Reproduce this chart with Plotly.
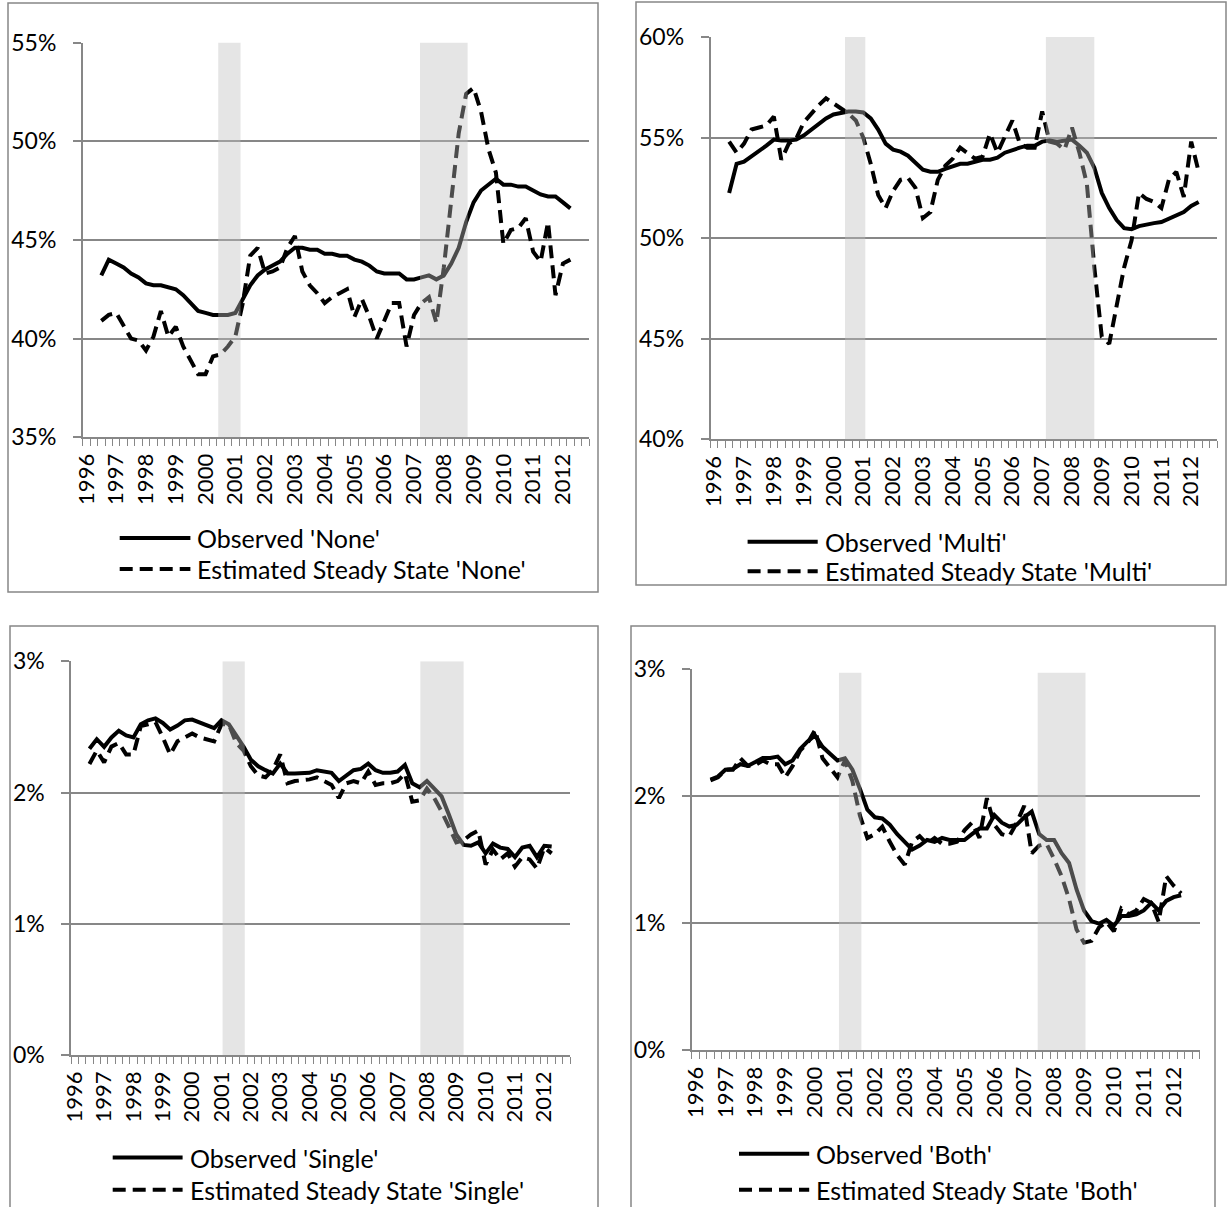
import plotly.graph_objects as go

W, H = 1227, 1207

# ---------------- data ----------------
AXIS_YEARS = list(range(1996, 2013))
AXIS_QUARTERS = [f"{y}Q{q}" for y in AXIS_YEARS for q in range(1, 5)]   # 68 categories
SERIES_START = "1996Q3"

none_obs = [43.2, 44.0, 43.8, 43.6, 43.3, 43.1, 42.8, 42.7, 42.7, 42.6, 42.5, 42.2, 41.8, 41.4,
            41.3, 41.2, 41.2, 41.2, 41.3, 42.0, 42.7, 43.2, 43.5, 43.7, 43.9, 44.3, 44.6, 44.6,
            44.5, 44.5, 44.3, 44.3, 44.2, 44.2, 44.0, 43.9, 43.7, 43.4, 43.3, 43.3, 43.3, 43.0,
            43.0, 43.1, 43.2, 43.0, 43.2, 43.8, 44.6, 45.9, 46.9, 47.5, 47.8, 48.1, 47.8, 47.8,
            47.7, 47.7, 47.5, 47.3, 47.2, 47.2, 46.9, 46.6]
none_est = [40.9, 41.2, 41.3, 40.6, 40.0, 39.9, 39.4, 40.1, 41.4, 40.1, 40.6, 39.6, 38.9, 38.2,
            38.2, 39.1, 39.2, 39.6, 40.1, 41.8, 44.2, 44.6, 43.3, 43.4, 43.6, 44.6, 45.2, 43.4,
            42.7, 42.3, 41.8, 42.1, 42.3, 42.5, 41.1, 42.0, 41.1, 40.0, 40.9, 41.8, 41.8, 39.6,
            41.2, 41.8, 42.1, 40.8, 43.6, 47.0, 50.4, 52.4, 52.7, 51.5, 49.6, 48.4, 44.8, 45.5,
            45.6, 46.1, 44.4, 43.9, 45.9, 42.2, 43.8, 44.0]

multi_obs = [52.25, 53.7, 53.8, 54.05, 54.3, 54.6, 54.9, 54.85, 54.85, 54.9, 55.1, 55.4, 55.7,
             55.95, 56.15, 56.25, 56.3, 56.3, 56.25, 55.95, 55.4, 54.7, 54.4, 54.3, 54.1, 53.75,
             53.4, 53.3, 53.3, 53.45, 53.6, 53.7, 53.7, 53.8, 53.9, 53.9, 54.0, 54.25, 54.4, 54.5,
             54.6, 54.6, 54.8, 54.85, 54.8, 54.85, 54.9, 54.6, 54.25, 53.5, 52.25, 51.5, 50.9,
             50.5, 50.45, 50.6, 50.7, 50.75, 50.8, 50.95, 51.1, 51.3, 51.6, 51.8]
multi_est = [54.8, 54.25, 54.7, 55.4, 55.5, 55.6, 56.05, 53.9, 54.7, 54.95, 55.75, 56.2, 56.6,
             56.95, 56.7, 56.4, 56.2, 55.85, 55.0, 53.7, 52.15, 51.5, 52.35, 52.9, 53.0, 52.5,
             51.0, 51.3, 52.9, 53.6, 53.95, 54.5, 54.25, 53.95, 54.05, 55.2, 54.25, 55.0, 55.85,
             54.7, 54.5, 54.5, 56.3, 54.8, 54.7, 54.4, 55.5, 54.25, 52.7, 48.55, 45.1, 44.75,
             46.65, 48.55, 49.9, 52.25, 51.95, 51.8, 51.5, 52.9, 53.3, 52.05, 54.8, 53.3]

single_obs = [2.333, 2.406, 2.348, 2.42, 2.47, 2.435, 2.42, 2.52, 2.55, 2.565, 2.53, 2.48, 2.51,
              2.55, 2.556, 2.536, 2.51, 2.49, 2.55, 2.52, 2.435, 2.35, 2.25, 2.2, 2.17, 2.145,
              2.22, 2.145, 2.145, 2.15, 2.15, 2.17, 2.16, 2.15, 2.087, 2.13, 2.17, 2.18, 2.22,
              2.17, 2.15, 2.15, 2.16, 2.21, 2.07, 2.04, 2.087, 2.03, 1.97, 1.83, 1.68, 1.60,
              1.594, 1.62, 1.536, 1.61, 1.58, 1.57, 1.507, 1.58, 1.594, 1.507, 1.594, 1.588]
single_est = [2.217, 2.32, 2.23, 2.35, 2.377, 2.29, 2.29, 2.507, 2.52, 2.536, 2.42, 2.29, 2.39,
              2.42, 2.45, 2.42, 2.406, 2.39, 2.52, 2.52, 2.377, 2.32, 2.2, 2.13, 2.116, 2.174,
              2.29, 2.07, 2.087, 2.093, 2.1, 2.116, 2.087, 2.058, 1.957, 2.07, 2.087, 2.07, 2.16,
              2.058, 2.07, 2.07, 2.087, 2.145, 1.93, 1.94, 2.03, 1.957, 1.855, 1.74, 1.62, 1.637,
              1.68, 1.71, 1.45, 1.565, 1.49, 1.536, 1.435, 1.507, 1.49, 1.42, 1.58, 1.536]

both_obs = [2.13, 2.153, 2.207, 2.213, 2.25, 2.237, 2.267, 2.30, 2.30, 2.31, 2.25, 2.28, 2.37,
            2.43, 2.477, 2.387, 2.333, 2.28, 2.297, 2.207, 2.058, 1.893, 1.833, 1.824, 1.774,
            1.70, 1.64, 1.58, 1.61, 1.654, 1.64, 1.67, 1.654, 1.654, 1.654, 1.70, 1.744, 1.744,
            1.85, 1.79, 1.76, 1.774, 1.833, 1.878, 1.70, 1.654, 1.654, 1.55, 1.474, 1.265, 1.10,
            1.017, 0.996, 1.026, 0.98, 1.056, 1.056, 1.07, 1.10, 1.16, 1.10, 1.175, 1.205, 1.22]
both_est = [2.124, 2.147, 2.207, 2.207, 2.297, 2.237, 2.243, 2.28, 2.25, 2.25, 2.147, 2.237,
            2.357, 2.417, 2.52, 2.297, 2.222, 2.147, 2.28, 2.117, 1.848, 1.669, 1.70, 1.76, 1.64,
            1.534, 1.46, 1.64, 1.684, 1.624, 1.67, 1.624, 1.624, 1.64, 1.73, 1.79, 1.67, 1.983,
            1.774, 1.70, 1.684, 1.79, 1.923, 1.55, 1.61, 1.624, 1.504, 1.37, 1.19, 0.95, 0.846,
            0.861, 0.966, 1.01, 0.936, 1.115, 1.07, 1.10, 1.19, 1.16, 1.01, 1.37, 1.295, 1.235]

# recession periods, in quarter-index units of the axis
rec_none = [(17.7, 20.7), (44.8, 51.2)]
rec_multi = [(17.55, 20.27), (44.5, 51.0)]
rec_single = [(20.15, 23.17), (47.1, 53.0)]
rec_both = [(19.2, 22.2), (45.8, 52.2)]

panels = [
    dict(name="None", obs=none_obs, est=none_est, rng=(35, 55), dtick=5, shade_top=55,
         rec=rec_none),
    dict(name="Multi", obs=multi_obs, est=multi_est, rng=(40, 60), dtick=5, shade_top=60,
         rec=rec_multi),
    dict(name="Single", obs=single_obs, est=single_est, rng=(0, 3), dtick=1, shade_top=3,
         rec=rec_single),
    dict(name="Both", obs=both_obs, est=both_est, rng=(0, 3), dtick=1, shade_top=2.97,
         rec=rec_both),
]

# ---------------- layout geometry (pixels) ----------------
plot_boxes = [  # left, right, top, bottom
    (82.7, 589.0, 42.5, 437.3),
    (710.5, 1217.3, 37.0, 439.4),
    (71.1, 570.0, 661.3, 1054.9),
    (691.8, 1199.8, 668.9, 1050.3),
]
frames = [  # panel border boxes
    (8, 598, 3, 592),
    (636, 1226, 2, 585),
    (10, 598, 626, 1215),
    (631, 1215, 626, 1215),
]
legend_pos = [  # line x0, line x1, y solid, y dashed
    (119.7, 190.4, 538.0, 569.0),
    (747.6, 817.7, 541.8, 571.3),
    (112.7, 182.6, 1157.5, 1189.8),
    (739.0, 809.2, 1153.7, 1189.8),
]

GRAY = "#878787"
FONT = "Lato"
DASH = "13px,7px"
LW = 4


def fx(x):
    return x / W


def fy(y):
    return 1 - y / H


fig = go.Figure()
start = AXIS_QUARTERS.index(SERIES_START)
shapes = []
annotations = []

for i, p in enumerate(panels):
    n = i + 1
    xa = "x" if n == 1 else f"x{n}"
    ya = "y" if n == 1 else f"y{n}"
    xs = list(range(start, start + len(p["obs"])))
    fig.add_trace(go.Scatter(x=xs, y=p["obs"], mode="lines", xaxis=xa, yaxis=ya,
                             line=dict(color="black", width=LW),
                             name=f"Observed '{p['name']}'", showlegend=False))
    fig.add_trace(go.Scatter(x=xs, y=p["est"], mode="lines", xaxis=xa, yaxis=ya,
                             line=dict(color="black", width=LW, dash=DASH),
                             name=f"Estimated Steady State '{p['name']}'", showlegend=False))

    l, r, t, b = plot_boxes[i]
    tickvals = [AXIS_QUARTERS.index(f"{y}Q1") for y in AXIS_YEARS]
    xaxis = dict(domain=[fx(l), fx(r)], anchor=ya, range=[-0.5, len(AXIS_QUARTERS) - 0.5],
                 automargin=False,
                 tickmode="array", tickvals=tickvals, ticktext=[str(y) for y in AXIS_YEARS],
                 tickangle=-90, ticks="", showgrid=False, zeroline=False,
                 showline=True, linecolor=GRAY, linewidth=1.5,
                 tickfont=dict(family=FONT, size=22, color="black"),
                 ticklabelstandoff=6,
                 minor=dict(tickmode="array",
                            tickvals=[k - 0.5 for k in range(len(AXIS_QUARTERS) + 1)],
                            ticks="outside", ticklen=7, tickwidth=1.3, tickcolor=GRAY,
                            showgrid=False))
    lo, hi = p["rng"]
    yaxis = dict(domain=[fy(b), fy(t)], anchor=xa, range=[lo, hi], dtick=p["dtick"],
                 automargin=False,
                 tick0=0, ticksuffix="%", showgrid=True, gridcolor=GRAY, gridwidth=1.5,
                 zeroline=False, showline=True, linecolor=GRAY, linewidth=1.5,
                 ticks="outside", ticklen=8, tickwidth=1.5, tickcolor=GRAY,
                 tickfont=dict(family=FONT, size=23, color="black"),
                 ticklabelstandoff=12)
    fig.update_layout(**{("xaxis" if n == 1 else f"xaxis{n}"): xaxis,
                         ("yaxis" if n == 1 else f"yaxis{n}"): yaxis})

    # recession shading (semi-transparent, on top of the lines)
    for (s0, s1) in p["rec"]:
        shapes.append(dict(type="rect", xref=xa, yref=ya, x0=s0, x1=s1, y0=lo,
                           y1=p["shade_top"], fillcolor="rgba(190,190,190,0.4)",
                           line=dict(width=0), layer="above"))

    # frame
    fl, fr, ft, fb = frames[i]
    shapes.append(dict(type="rect", xref="paper", yref="paper", x0=fx(fl), x1=fx(fr),
                       y0=fy(fb), y1=fy(ft), line=dict(color=GRAY, width=1.5),
                       fillcolor="rgba(0,0,0,0)", layer="below"))

    # legend
    lx0, lx1, ys, yd = legend_pos[i]
    shapes.append(dict(type="line", xref="paper", yref="paper", x0=fx(lx0), x1=fx(lx1),
                       y0=fy(ys), y1=fy(ys), line=dict(color="black", width=LW)))
    shapes.append(dict(type="line", xref="paper", yref="paper", x0=fx(lx0), x1=fx(lx1),
                       y0=fy(yd), y1=fy(yd), line=dict(color="black", width=LW, dash=DASH)))
    annotations.append(dict(xref="paper", yref="paper", x=fx(lx1 + 5), y=fy(ys),
                            xanchor="left", yanchor="middle", showarrow=False,
                            text=f"Observed '{p['name']}'",
                            font=dict(family=FONT, size=25, color="black")))
    annotations.append(dict(xref="paper", yref="paper", x=fx(lx1 + 5), y=fy(yd),
                            xanchor="left", yanchor="middle", showarrow=False,
                            text=f"Estimated Steady State '{p['name']}'",
                            font=dict(family=FONT, size=25, color="black")))

fig.update_layout(width=W, height=H, margin=dict(l=0, r=0, t=0, b=0, autoexpand=False),
                  paper_bgcolor="white", plot_bgcolor="white", showlegend=False,
                  shapes=shapes, annotations=annotations)

fig.write_html("out.html", config={"displayModeBar": False},
               post_script="document.body.style.margin='0px';"
                           "document.body.style.overflow='hidden';")
